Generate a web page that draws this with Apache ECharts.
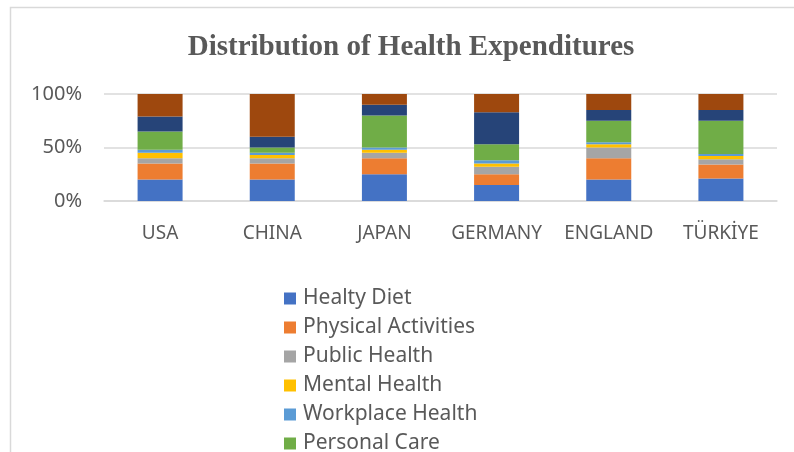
<!DOCTYPE html>
<html><head><meta charset="utf-8">
<script src="https://cdn.jsdelivr.net/npm/echarts@6/dist/echarts.min.js"></script>
<style>html,body{margin:0;padding:0;background:#fff;overflow:hidden}#c{width:794px;height:540px}</style>
</head><body><div id="c"></div>
<script>
const categories = ['USA', 'CHINA', 'JAPAN', 'GERMANY', 'ENGLAND', 'TÜRKİYE'];
const healtyDiet        = [20, 20, 25, 15, 20, 21];
const physicalActivities = [15, 15, 15, 10, 20, 13];
const publicHealth      = [5, 5, 5, 7, 10, 5];
const mentalHealth      = [5, 3, 3, 3, 3, 3];
const workplaceHealth   = [3, 2, 2, 3, 2, 2];
const personalCare      = [17, 5, 30, 15, 20, 31];
const series7           = [14, 10, 10, 30, 10, 10];
const series8           = [21, 40, 10, 17, 15, 15];
const seriesNames = ['Healty Diet', 'Physical Activities', 'Public Health', 'Mental Health', 'Workplace Health', 'Personal Care', 'Series 7', 'Series 8'];
const legendNames = seriesNames.slice(0, 6);
const yTicks = [0, 50, 100];
const colors = ['#4472C4', '#ED7D31', '#A5A5A5', '#FFC000', '#5B9BD5', '#70AD47', '#264478', '#9E480E'];

const allData = [healtyDiet, physicalActivities, publicHealth, mentalHealth, workplaceHealth, personalCare, series7, series8];
const chart = echarts.init(document.getElementById('c'), null, {renderer: 'canvas'});
chart.setOption({
  animation: false,
  color: colors,
  title: {
    text: 'Distribution of Health Expenditures',
    left: 406, top: 28, textAlign: 'center',
    textStyle: {fontFamily: 'Liberation Serif', fontWeight: 'bold', fontSize: 29, color: '#595959'}
  },
  graphic: [{
    type: 'rect', silent: true,
    shape: {x: 10.5, y: 7.5, width: 800, height: 600},
    style: {fill: 'none', stroke: '#d9d9d9', lineWidth: 1.5}
  }],
  legend: {
    data: legendNames,
    orient: 'vertical', left: 279, top: 283,
    icon: 'rect', itemWidth: 12, itemHeight: 12, itemGap: 8,
    textStyle: {fontFamily: 'Noto Sans', fontSize: 21, color: '#595959', lineHeight: 20, padding: [0, 0, 0, 2]}
  },
  grid: {left: 104, right: 17, top: 94, bottom: 540 - 201, containLabel: false},
  xAxis: {
    type: 'category', data: categories,
    axisLine: {show: true, lineStyle: {color: '#d9d9d9', width: 1.5}},
    axisTick: {show: false},
    axisLabel: {interval: 0, hideOverlap: false, fontFamily: 'Noto Sans', fontSize: 19, color: '#595959', margin: 23}
  },
  yAxis: {
    type: 'value', min: yTicks[0], max: yTicks[yTicks.length - 1], interval: 50,
    axisLine: {show: false}, axisTick: {show: false},
    splitLine: {lineStyle: {color: '#d9d9d9', width: 1.5}},
    axisLabel: {fontFamily: 'Noto Sans', fontSize: 20, color: '#595959', margin: 22, formatter: '{value}%'}
  },
  series: allData.map((d, i) => ({
    name: seriesNames[i], type: 'bar', stack: 'total', barWidth: 45,
    data: d
  }))
});
</script></body></html>
